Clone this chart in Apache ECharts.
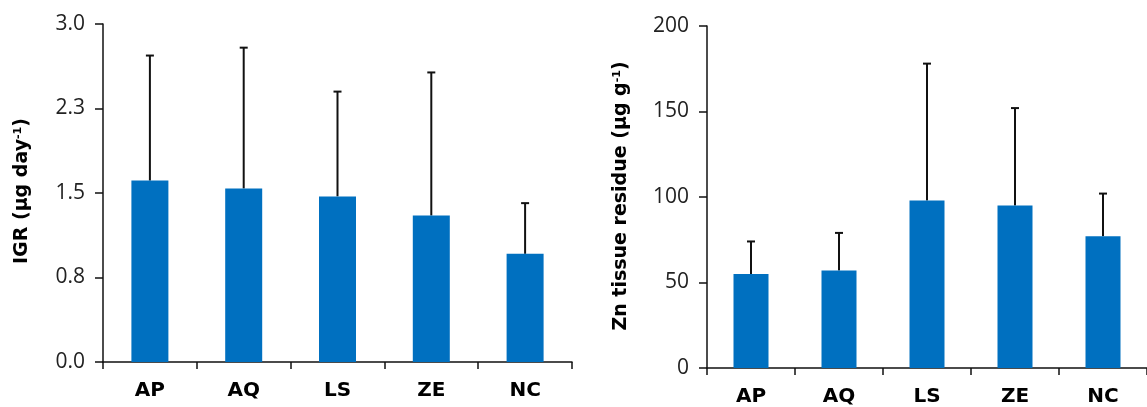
<!DOCTYPE html>
<html><head><meta charset="utf-8">
<script src="https://cdn.jsdelivr.net/npm/echarts@6/dist/echarts.min.js"></script>
<style>html,body{margin:0;padding:0;background:#fff}#c{width:1147px;height:407px}</style>
</head><body><div id="c"></div>
<script>
const categories = ['AP', 'AQ', 'LS', 'ZE', 'NC'];
const igrMean = [1.61, 1.54, 1.47, 1.30, 0.96];
const igrUpper = [2.72, 2.79, 2.40, 2.57, 1.41];
const igrTickLabels = ['0.0', '0.8', '1.5', '2.3', '3.0'];
const znMean = [55, 57, 98, 95, 77];
const znUpper = [74, 79, 178, 152, 102];

const BAR = '#0070C0';
const TFONT = 'DejaVu Sans';
const NFONT = 'Open Sans';
const chart = echarts.init(document.getElementById('c'));

function errSeries(xi, yi, mean, upper) {
  return {
    type: 'custom', xAxisIndex: xi, yAxisIndex: yi, z: 1,
    data: categories.map((c, i) => [i, mean[i], upper[i]]),
    renderItem: function (params, api) {
      const base = api.coord([api.value(0), api.value(1)]);
      const top = api.coord([api.value(0), api.value(2)]);
      const hw = 4;
      return {
        type: 'group', children: [
          { type: 'line', shape: { x1: base[0], y1: base[1], x2: top[0], y2: top[1] }, style: { stroke: '#111', lineWidth: 2 } },
          { type: 'line', shape: { x1: top[0] - hw, y1: top[1], x2: top[0] + hw, y2: top[1] }, style: { stroke: '#111', lineWidth: 2 } }
        ]
      };
    }
  };
}

const axisLine = { show: true, lineStyle: { color: '#111', width: 1.5 } };
const catAxis = (gi) => ({
  type: 'category', gridIndex: gi, data: categories,
  axisLine: axisLine,
  axisTick: { show: true, alignWithLabel: false, length: 7, lineStyle: { color: '#111', width: 1.5 } },
  axisLabel: { color: '#000', fontFamily: TFONT, fontWeight: 'bold', fontSize: 20, margin: 19 }
});
const richTitle = {
  a: { fontFamily: TFONT, fontWeight: 'bold', fontSize: 19, fill: '#000' },
  s: { fontFamily: TFONT, fontWeight: 'bold', fontSize: 11, fill: '#000', verticalAlign: 'top', padding: [0, 0, 8, 0] }
};

chart.setOption({
  animation: false,
  grid: [
    { left: 103, top: 24, width: 469, height: 338 },
    { left: 707, top: 26, width: 448, height: 342 }
  ],
  xAxis: [catAxis(0), catAxis(1)],
  yAxis: [
    {
      type: 'value', gridIndex: 0, min: 0, max: 3, interval: 0.75,
      axisLine: axisLine,
      axisTick: { show: true, length: 8, lineStyle: { color: '#111', width: 1.5 } },
      splitLine: { show: false },
      axisLabel: { color: '#222', fontFamily: NFONT, fontSize: 21, margin: 18,
        formatter: (v) => igrTickLabels[Math.round(v / 0.75)] }
    },
    {
      type: 'value', gridIndex: 1, min: 0, max: 200, interval: 50,
      axisLine: axisLine,
      axisTick: { show: true, length: 8, lineStyle: { color: '#111', width: 1.5 } },
      splitLine: { show: false },
      axisLabel: { color: '#222', fontFamily: NFONT, fontSize: 21, margin: 18 }
    }
  ],
  series: [
    { type: 'bar', xAxisIndex: 0, yAxisIndex: 0, data: igrMean, barWidth: 37, itemStyle: { color: BAR }, z: 2 },
    errSeries(0, 0, igrMean, igrUpper),
    { type: 'bar', xAxisIndex: 1, yAxisIndex: 1, data: znMean, barWidth: 35, itemStyle: { color: BAR }, z: 2 },
    errSeries(1, 1, znMean, znUpper)
  ],
  graphic: [
    { type: 'text', x: 22, y: 191, rotation: Math.PI / 2,
      style: { text: '{a|IGR (µg day}{s|-1}{a|)}', align: 'center', verticalAlign: 'middle', rich: richTitle } },
    { type: 'text', x: 621, y: 196, rotation: Math.PI / 2,
      style: { text: '{a|Zn tissue residue (µg g}{s|-1}{a|)}', align: 'center', verticalAlign: 'middle', rich: richTitle } }
  ]
});
</script></body></html>
